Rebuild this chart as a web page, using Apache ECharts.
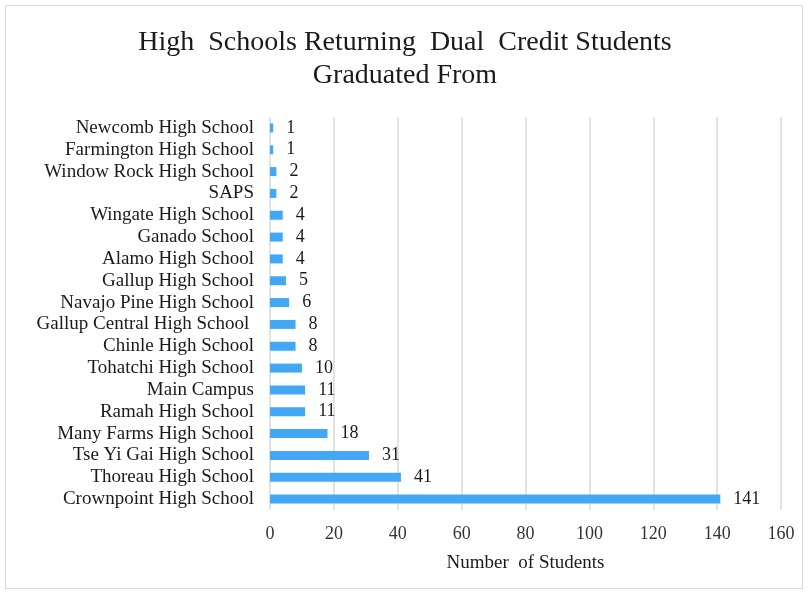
<!DOCTYPE html>
<html><head><meta charset="utf-8">
<script src="https://cdn.jsdelivr.net/npm/echarts@6/dist/echarts.min.js"></script>
<style>
html,body{margin:0;padding:0;background:#fff;}
#frame{position:absolute;left:5px;top:5px;width:798px;height:584px;border:1px solid #d9d9d9;box-sizing:border-box;}
#chart{position:absolute;left:0;top:0;width:810px;height:594px;}
</style></head>
<body>
<div id="frame"></div>
<div id="chart"></div>
<script>
var titleText = 'High  Schools Returning  Dual  Credit Students\nGraduated From';
var categories = ['Crownpoint High School','Thoreau High School','Tse Yi Gai High School','Many Farms High School','Ramah High School','Main Campus','Tohatchi High School','Chinle High School','Gallup Central High School ','Navajo Pine High School','Gallup High School','Alamo High School','Ganado School','Wingate High School','SAPS','Window Rock High School','Farmington High School','Newcomb High School'];
var values = [141,41,31,18,11,11,10,8,8,6,5,4,4,4,2,2,1,1];
var xTicks = {min:0, max:160, interval:20};
var axisName = 'Number  of Students';

var font = '"Liberation Serif","DejaVu Serif",serif';
var chart = echarts.init(document.getElementById('chart'));
chart.setOption({
  animation:false,
  title:{text:titleText,left:'center',top:21,textStyle:{fontFamily:font,fontSize:28,fontWeight:'normal',color:'#1a1a1a',lineHeight:33}},
  grid:{left:270,right:29,top:117,bottom:84,containLabel:false},
  xAxis:{type:'value',min:xTicks.min,max:xTicks.max,interval:xTicks.interval,
    name:axisName,nameLocation:'middle',nameGap:44,
    nameTextStyle:{fontFamily:font,fontSize:19,color:'#1a1a1a'},
    axisLine:{show:false},axisTick:{show:false},
    axisLabel:{fontFamily:font,fontSize:18,color:'#333',margin:15},
    splitLine:{lineStyle:{color:'#d9d9d9',width:1.5}}},
  yAxis:{type:'category',data:categories,axisLine:{show:false},axisTick:{show:false},
    axisLabel:{interval:0,fontFamily:font,fontSize:19,lineHeight:20,color:'#1a1a1a',margin:16}},
  series:[{type:'bar',data:values,barWidth:9,itemStyle:{color:'#42a8f5'},
    label:{show:true,position:'right',distance:13,fontFamily:font,fontSize:18,color:'#1a1a1a'}}]
});
</script>
</body></html>
